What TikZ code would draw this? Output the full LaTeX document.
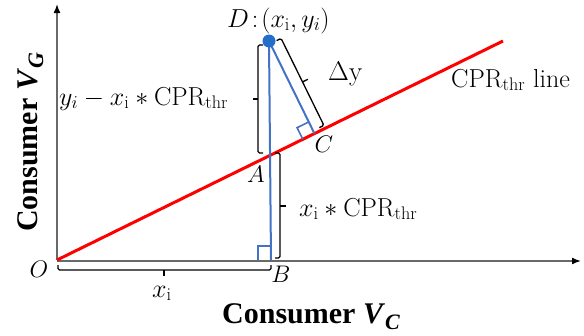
\RequirePackage{fix-cm}
\documentclass[tikz,border=0pt]{standalone}
\usepackage{fontspec}
\usepackage{amsmath}
\newfontfamily\tnr{Liberation Serif}
\usetikzlibrary{arrows.meta,calc}
\definecolor{ablue}{RGB}{68,114,196}
\definecolor{dblue}{RGB}{35,110,200}
\definecolor{axgray}{RGB}{105,105,105}
\begin{document}
\begin{tikzpicture}[x=1pt,y=-1pt,
  axis/.style={draw=axgray,line width=1.6pt,-{Latex[length=9pt,width=7pt,color=black]}},
  redline/.style={draw=red,line width=3pt},
  blueline/.style={draw=ablue,line width=2pt},
  rightang/.style={draw=ablue,line width=1.6pt},
  brk/.style={draw=black,line width=1.3pt,rounded corners=1.5pt},
  lbl/.style={inner sep=0pt,font=\fontsize{26}{30}\selectfont},
  ptl/.style={inner sep=0pt,font=\fontsize{24}{28}\selectfont},
  axl/.style={inner sep=0pt,font=\tnr\bfseries\fontsize{30}{36}\selectfont}]
\useasboundingbox (0,0) rectangle (584,335);
% points
\coordinate (O) at (57,260);
\coordinate (E) at (503,41);
\coordinate (D) at (269,41);
\coordinate (A) at (270,155.4);
\coordinate (B) at (271,260);
\coordinate (C) at (314.5,133.6);
\coordinate (Yt) at (57,4);
\coordinate (Xt) at (581,261);
\coordinate (Xo) at (57,261);
% axes
\draw[axis] (O) -- (Yt);
\draw[axis] (Xo) -- (Xt);
% threshold line
\draw[redline] (O) -- (E);
% blue segments
\draw[blueline] (D) -- (B);
\draw[blueline] (D) -- (C);
\draw[rightang] (258,260) -- (258,246) -- (270.3,246);
\draw[rightang] (302.8,139.3) -- (297.1,127.7) -- (308.8,121.9);
\fill[dblue] (D) circle (6.5);
% brackets
\draw[brk] (263,45) -- (258,45) -- (258,153) -- (263,153);
\draw[brk] (258,99) -- (253,99);
\draw[brk] (275,153) -- (280,153) -- (280,258) -- (275,258);
\draw[brk] (280,206) -- (286,206);
\draw[brk] (58,265) -- (58,270) -- (271,270) -- (271,265);
\draw[brk] (164,270) -- (164,276);
\draw[brk] (276.6,40.6) -- (281.1,38.4) -- (323.9,125.4) -- (319.4,127.6);
\draw[brk] (302.5,81.9) -- (307.9,79.3);
% labels
\node[lbl,anchor=base west] (dl) at (227,27) {$D\!:\!(x_{\mathrm{i}},y_i)$};
\node[lbl,anchor=base west,font=\fontsize{27}{31}\selectfont] (dy) at (328,80) {$\Delta\mathrm{y}$};
\node[lbl,anchor=base west] (l1) at (59,105) {$y_i-x_{\mathrm{i}}\ast\mathrm{CPR}_{\mathrm{thr}}$};
\node[lbl,anchor=base west] (l2) at (299,216) {$x_{\mathrm{i}}\ast\mathrm{CPR}_{\mathrm{thr}}$};
\node[lbl,anchor=base west] (l3) at (451,87) {$\mathrm{CPR}_{\mathrm{thr}}$ line};
\node[lbl,anchor=base west] (l4) at (152,297) {$x_{\mathrm{i}}$};
\node[ptl,anchor=base] (lO) at (39,277) {$O$};
\node[ptl,anchor=base] (lA) at (256,182) {$A$};
\node[ptl,anchor=base] (lB) at (281,282) {$B$};
\node[ptl,anchor=base] (lC) at (324,152) {$C$};
\node[axl,anchor=base west] (xl) at (222,323) {Consumer \textit{V}\raisebox{-6pt}{\fontsize{22}{24}\selectfont\textit{C}}};
\node[axl,anchor=base west,rotate=90] (yl) at (37,232) {Consumer \textit{V}\raisebox{-6pt}{\fontsize{22}{24}\selectfont\textit{G}}};
\end{tikzpicture}
\end{document}
